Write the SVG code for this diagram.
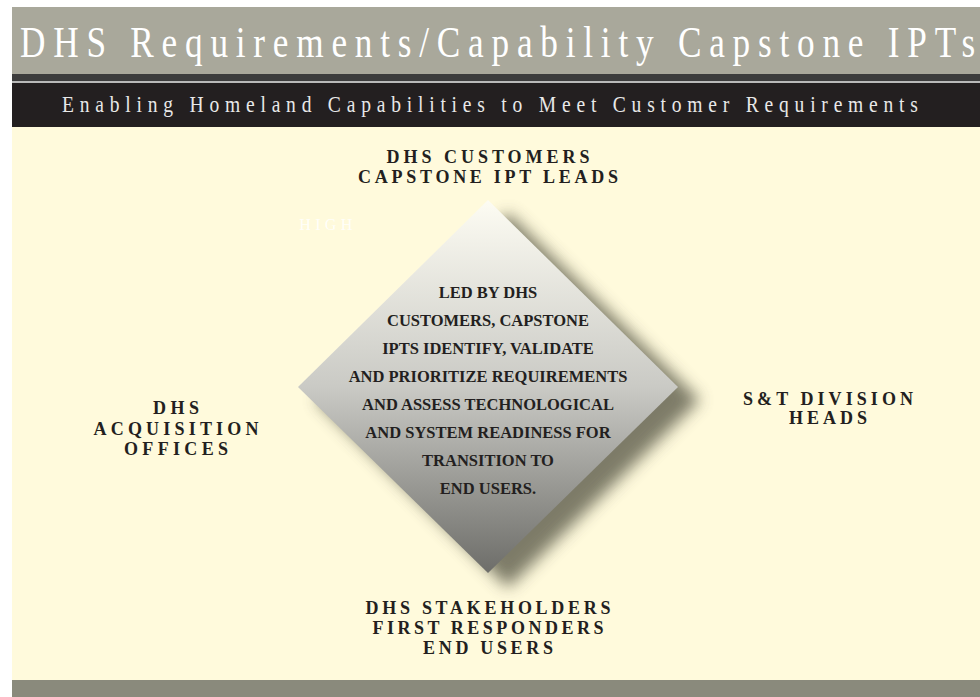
<svg xmlns="http://www.w3.org/2000/svg" width="980" height="697" viewBox="0 0 980 697">
  <defs>
    <linearGradient id="diamondFill" x1="0" y1="0" x2="0" y2="1">
      <stop offset="0" stop-color="#fdfcf3"/>
      <stop offset="0.5" stop-color="#cacac5"/>
      <stop offset="1" stop-color="#6d6d69"/>
    </linearGradient>
    <filter id="softShadow" x="-20%" y="-20%" width="140%" height="140%">
      <feGaussianBlur stdDeviation="8"/>
    </filter>
    <style>
      .label { font-family: "Liberation Serif", "Times New Roman", serif; font-weight: bold; font-size: 18px; fill: #231f20; text-anchor: middle; }
      .body { font-family: "Liberation Serif", "Times New Roman", serif; font-weight: bold; font-size: 16.5px; fill: #231f20; text-anchor: middle; }
    </style>
  </defs>

  <!-- page background -->
  <rect x="0" y="0" width="980" height="697" fill="#ffffff"/>
  <rect x="12" y="127" width="968" height="553" fill="#fffadc"/>

  <!-- header bands -->
  <g id="header">
    <rect x="12" y="7" width="968" height="67" fill="#a9a89b"/>
    <rect x="12" y="74" width="968" height="7" fill="#3c3c3c"/>
    <rect x="12" y="81" width="968" height="2" fill="#b9b9b9"/>
    <rect x="12" y="83" width="968" height="44" fill="#231f20"/>
    <!-- condensed title and subtitle: narrowed glyphs, widened tracking -->
    <text transform="translate(20,57) scale(0.8,1)" x="0" y="0" font-family="Liberation Serif, serif" font-size="44" fill="#ffffff" textLength="1194" lengthAdjust="spacing">DHS Requirements/Capability Capstone IPTs</text>
    <text transform="translate(62,112) scale(0.85,1)" x="0" y="0" font-family="Liberation Serif, serif" font-size="23" fill="#e8e8e8" textLength="1007" lengthAdjust="spacing">Enabling Homeland Capabilities to Meet Customer Requirements</text>
  </g>

  <!-- footer band -->
  <rect x="12" y="680" width="968" height="17" fill="#8a8a7c"/>

  <!-- central diamond -->
  <g id="diamond">
    <polygon points="508,213 700,400 508,588 316,400" fill="#6f6e5c" opacity="0.9" filter="url(#softShadow)"/>
    <polygon points="488,200 678,387 488,573 298,387" fill="url(#diamondFill)"/>
    <text x="299" y="230" font-family="Liberation Serif, serif" font-size="16" fill="#ffffff" opacity="0.85" textLength="53" lengthAdjust="spacing">HIGH</text>
    <text class="body" x="488" y="298">LED BY DHS</text>
    <text class="body" x="488" y="326">CUSTOMERS, CAPSTONE</text>
    <text class="body" x="488" y="354">IPTS IDENTIFY, VALIDATE</text>
    <text class="body" x="488" y="382">AND PRIORITIZE REQUIREMENTS</text>
    <text class="body" x="488" y="410">AND ASSESS TECHNOLOGICAL</text>
    <text class="body" x="488" y="438">AND SYSTEM READINESS FOR</text>
    <text class="body" x="488" y="466">TRANSITION TO</text>
    <text class="body" x="488" y="494">END USERS.</text>
  </g>

  <!-- surrounding labels -->
  <g id="top-label">
    <text class="label" x="488" y="163" textLength="203" lengthAdjust="spacing">DHS CUSTOMERS</text>
    <text class="label" x="488" y="183" textLength="260" lengthAdjust="spacing">CAPSTONE IPT LEADS</text>
  </g>
  <g id="left-label">
    <text class="label" x="176" y="414" textLength="46" lengthAdjust="spacing">DHS</text>
    <text class="label" x="176" y="435" textLength="165" lengthAdjust="spacing">ACQUISITION</text>
    <text class="label" x="176" y="455" textLength="104" lengthAdjust="spacing">OFFICES</text>
  </g>
  <g id="right-label">
    <text class="label" x="828" y="405" textLength="170" lengthAdjust="spacing">S&amp;T DIVISION</text>
    <text class="label" x="828" y="424" textLength="78" lengthAdjust="spacing">HEADS</text>
  </g>
  <g id="bottom-label">
    <text class="label" x="488" y="614" textLength="245" lengthAdjust="spacing">DHS STAKEHOLDERS</text>
    <text class="label" x="488" y="634" textLength="231" lengthAdjust="spacing">FIRST RESPONDERS</text>
    <text class="label" x="488" y="654" textLength="130" lengthAdjust="spacing">END USERS</text>
  </g>
</svg>
